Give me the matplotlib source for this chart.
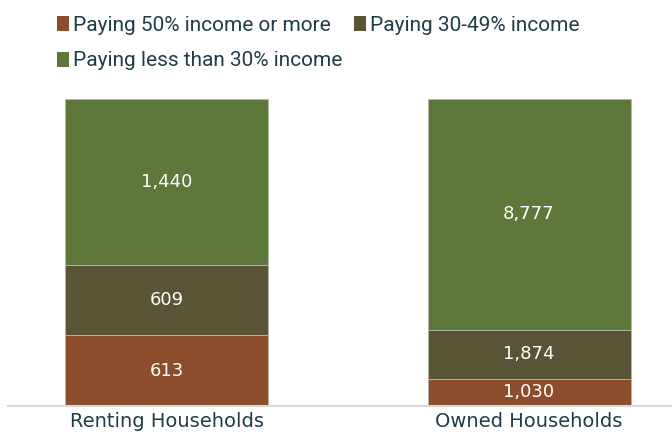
import matplotlib
matplotlib.use("Agg")
import matplotlib.pyplot as plt
from matplotlib.patches import Patch
import numpy as np

categories = ["Renting Households", "Owned Households"]
series_names = ["Paying 50% income or more", "Paying 30-49% income", "Paying less than 30% income"]
pay_50_plus = [613, 1030]
pay_30_49 = [609, 1874]
pay_under_30 = [1440, 8777]
colors = ["#8B4D2B", "#595435", "#5E773B"]

text_color = "#1F3D47"

fig = plt.figure(figsize=(6.72, 4.36), dpi=100)
ax = fig.add_axes([8/672, 1 - 406/436, 1 - 8/672, (406 - 99)/436])

series = [pay_50_plus, pay_30_49, pay_under_30]
totals = np.sum(np.array(series), axis=0)
x = np.arange(len(categories))
bottom = np.zeros(len(categories))
width = 0.56
for vals, col, name in zip(series, colors, series_names):
    frac = np.array(vals) / totals
    ax.bar(x, frac, width, bottom=bottom, color=col, edgecolor="#b8b8a8",
           linewidth=0.6, label=name)
    for xi, b, f, v in zip(x, bottom, frac, vals):
        ax.text(xi, b + f / 2, f"{v:,}", ha="center", va="center", color="white",
                fontsize=13, family="DejaVu Sans")
    bottom += frac

ax.set_xlim(-158.5/362.5, (672 - 166.5)/362.5)
ax.set_ylim(0, 1)
ax.set_yticks([])
ax.set_xticks(x)
ax.set_xticklabels(categories, family="DejaVu Sans", fontsize=14, color=text_color)
ax.tick_params(axis="x", length=0, pad=4.5)
for s in ["top", "right", "left"]:
    ax.spines[s].set_visible(False)
ax.spines["bottom"].set_color("#d9d9d9")
ax.spines["bottom"].set_linewidth(1.5)

handles = [Patch(facecolor=c) for c in colors]
order = [0, 2, 1]
leg = fig.legend([handles[i] for i in order], [series_names[i] for i in order],
                 ncol=2, loc="upper left", bbox_to_anchor=(38/672, 1 + 3/436),
                 frameon=False, handlelength=0.6, handleheight=0.75,
                 handletextpad=0.2, columnspacing=0.52, labelspacing=0.8,
                 prop={"family": "Roboto", "size": 15})
for t in leg.get_texts():
    t.set_color(text_color)

fig.savefig("out.png", dpi=100)
